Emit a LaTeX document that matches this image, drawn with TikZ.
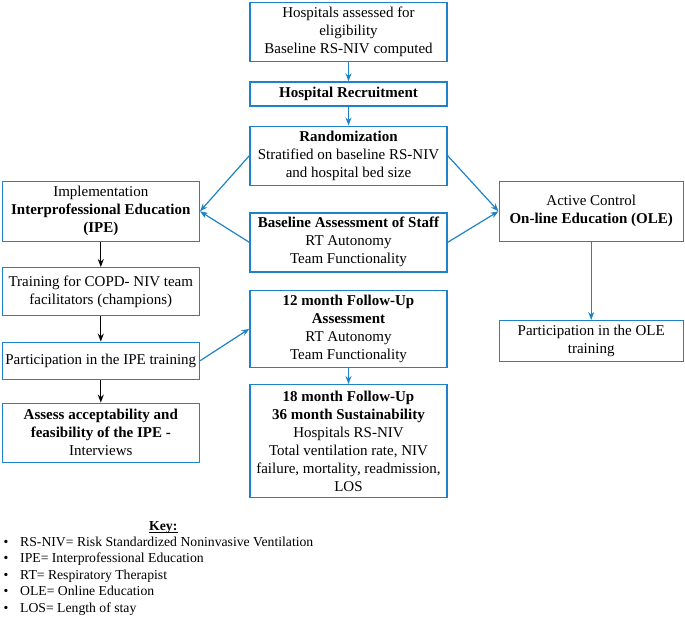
\documentclass[tikz,border=0pt]{standalone}
\usepackage{fontspec}
\setmainfont{Liberation Serif}
\usetikzlibrary{arrows.meta}
\definecolor{boxblue}{RGB}{30,130,200}

\begin{document}
\begin{tikzpicture}[x=1pt,y=-1pt,
    box/.style={draw=boxblue,line width=1.4pt,align=center,inner sep=2pt,
        font=\fontsize{15}{18}\selectfont},
    mid/.style={box,minimum width=197pt},
    side/.style={box,minimum width=197pt},
    ctrl/.style={box,minimum width=184pt},
    keytxt/.style={font=\fontsize{13.7}{16.5}\selectfont,inner sep=0pt},
    bl/.style={-{Stealth[length=8pt,width=6pt]},boxblue,line width=1.2pt},
    bk/.style={-{Stealth[length=8pt,width=6pt]},black,line width=1.2pt}]
\useasboundingbox (0,0) rectangle (685,618);
\node[mid,minimum height=59pt](hosp) at (348.5,32) {Hospitals assessed for\\eligibility\\Baseline RS-NIV computed};
\node[mid,minimum height=24pt](recruit) at (348.5,94) {\textbf{Hospital Recruitment}};
\node[mid,minimum height=59pt](random) at (348.5,155.7) {\textbf{Randomization}\\Stratified on baseline RS-NIV\\and hospital bed size};
\node[mid,minimum height=59pt](staff) at (348.5,242.3) {\textbf{Baseline Assessment of Staff}\\RT Autonomy\\Team Functionality};
\node[mid,minimum height=77pt](fup12) at (348.5,328.8) {\textbf{12 month Follow-Up}\\\textbf{Assessment}\\RT Autonomy\\Team Functionality};
\node[mid,minimum height=113pt](fup18) at (348.5,441.2) {\textbf{18 month Follow-Up}\\\textbf{36 month Sustainability}\\Hospitals RS-NIV\\Total ventilation rate, NIV\\failure, mortality, readmission,\\LOS};
\node[side,minimum height=60pt](ipe) at (100.8,211.3) {Implementation\\\textbf{Interprofessional Education}\\\textbf{(IPE)}};
\node[side,minimum height=48pt](train) at (100.8,291.7) {Training for COPD- NIV team\\facilitators (champions)};
\node[side,minimum height=37pt](partipe) at (100.8,360.8) {Participation in the IPE training};
\node[side,minimum height=59pt](assess) at (100.8,432.8) {\textbf{Assess acceptability and}\\\textbf{feasibility of the IPE -}\\Interviews};
\node[ctrl,minimum height=60pt](ole) at (591.2,211.3) {Active Control\\\textbf{On-line Education (OLE)}};
\node[ctrl,minimum height=41pt](partole) at (591.2,341.2) {Participation in the OLE\\training};

\draw[bl] (hosp) -- (recruit);
\draw[bl] (recruit) -- (random);
\draw[bl] (random.west) -- (ipe.east);
\draw[bl] (staff.west) -- (ipe.east);
\draw[bl] (random.east) -- (ole.west);
\draw[bl] (staff.east) -- (ole.west);
\draw[bl] (ole) -- (partole);
\draw[bl] (partipe.east) -- (fup12.west);
\draw[bl] (fup12) -- (fup18);
\draw[bk] (ipe) -- (train);
\draw[bk] (train) -- (partipe);
\draw[bk] (partipe) -- (assess);

% key
\node[keytxt,anchor=base](key) at (163.3,530) {\textbf{Key:}};
\draw[line width=0.8pt] ([yshift=-2.3pt]key.base west) -- ([yshift=-2.3pt]key.base east);
\foreach \txt [count=\i] in {RS-NIV= Risk Standardized Noninvasive Ventilation,IPE= Interprofessional Education,RT= Respiratory Therapist,OLE= Online Education,LOS= Length of stay}{
    \node[keytxt,anchor=base](bul\i) at (6,529.5+16.5*\i) {\textbullet};
    \node[keytxt,anchor=base west](key\i) at (20,529.5+16.5*\i) {\txt};
}
\end{tikzpicture}
\end{document}
